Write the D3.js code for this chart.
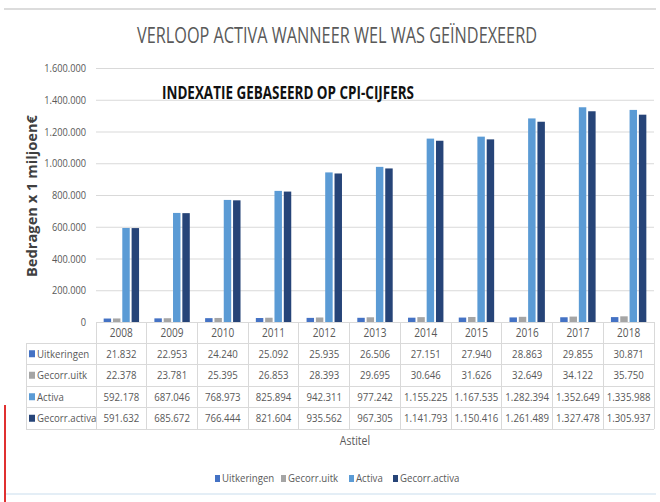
<!DOCTYPE html>
<html><head><meta charset="utf-8">
<script src="https://cdn.jsdelivr.net/npm/d3@7"></script>
<style>
html,body{margin:0;padding:0;background:#fff;}
svg{display:block;}
text{font-family:"Open Sans",sans-serif;}
</style></head>
<body>
<script>
const years = ["2008","2009","2010","2011","2012","2013","2014","2015","2016","2017","2018"];
const seriesNames = ["Uitkeringen","Gecorr.uitk","Activa","Gecorr.activa"];
const seriesColors = ["#4472C4","#A5A5A5","#5B9BD5","#264478"];
const uitkeringen = [21832,22953,24240,25092,25935,26506,27151,27940,28863,29855,30871];
const gecorrUitk = [22378,23781,25395,26853,28393,29695,30646,31626,32649,34122,35750];
const activa = [592178,687046,768973,825894,942311,977242,1155225,1167535,1282394,1352649,1335988];
const gecorrActiva = [591632,685672,766444,821604,935562,967305,1141793,1150416,1261489,1327478,1305937];
const yTicks = [0,200000,400000,600000,800000,1000000,1200000,1400000,1600000];
const seriesValues = [uitkeringen, gecorrUitk, activa, gecorrActiva];

(function(){
const W = 660, H = 502;
const svg = d3.select("body").append("svg").attr("width", W).attr("height", H);
const fmt = v => d3.format(",")(v).replace(/,/g, ".");
const SX = 0.84;
function ctext(g, x, y, str, size, anchor, fill) {
  return g.append("text")
    .attr("transform", `translate(${x},${y}) scale(${SX},1)`)
    .attr("text-anchor", anchor || "start")
    .attr("fill", fill || "#595959")
    .style("font-size", size + "px")
    .text(str);
}

// frame decorations
svg.append("line").attr("x1",4).attr("x2",656).attr("y1",9).attr("y2",9).attr("stroke","#d0d0d0").attr("stroke-width",1.5);
svg.append("line").attr("x1",5).attr("x2",5).attr("y1",405).attr("y2",502).attr("stroke","#e03030").attr("stroke-width",2);
svg.append("line").attr("x1",6).attr("x2",656).attr("y1",494).attr("y2",494).attr("stroke","#e4eef6").attr("stroke-width",2);

const pLeft = 96, pRight = 654, pTop = 68, pBottom = 322;
const x = d3.scaleBand().domain(years).range([pLeft, pRight]).padding(0);
const y = d3.scaleLinear().domain([0, 1600000]).range([pBottom, pTop]);
const inner = d3.scaleBand().domain(seriesNames).range([-17.7, 17.7]).paddingInner(0.2);

// gridlines + y labels
const yAxis = d3.axisLeft(y).tickValues(yTicks).tickSize(-(pRight-pLeft)).tickFormat(fmt).tickPadding(0);
const ga = svg.append("g").attr("transform",`translate(${pLeft},0)`).call(yAxis);
ga.select(".domain").remove();
ga.selectAll(".tick line").attr("stroke","#d9d9d9").attr("stroke-width",1);
ga.selectAll(".tick text").attr("x", null).attr("fill","#595959").style("font-size","11px")
  .attr("transform", `translate(-10,0) scale(${SX},1)`);

// bars
seriesNames.forEach((s, si) => {
  svg.append("g").selectAll("rect").data(years).join("rect")
    .attr("x", (d,i) => x(d) + x.bandwidth()/2 + inner(s))
    .attr("width", inner.bandwidth())
    .attr("y", (d,i) => y(seriesValues[si][i]))
    .attr("height", (d,i) => y(0) - y(seriesValues[si][i]))
    .attr("fill", seriesColors[si]);
});

// table
const rowY = [322, 343, 364.5, 386, 407.5, 429];
const tableLeft = 26;
const grid = svg.append("g").attr("stroke","#d9d9d9").attr("stroke-width",1).attr("shape-rendering","crispEdges");
grid.append("line").attr("x1",pLeft).attr("x2",pRight).attr("y1",rowY[0]).attr("y2",rowY[0]);
for (let r = 1; r < rowY.length; r++) {
  grid.append("line").attr("x1",tableLeft).attr("x2",pRight).attr("y1",rowY[r]).attr("y2",rowY[r]);
}
grid.append("line").attr("x1",tableLeft).attr("x2",tableLeft).attr("y1",rowY[1]).attr("y2",rowY[5]);
const bounds = years.map(d => x(d)).concat([pRight]);
bounds.forEach(b => grid.append("line").attr("x1",b).attr("x2",b).attr("y1",rowY[0]).attr("y2",rowY[5]));

const tg = svg.append("g");
years.forEach(d => ctext(tg, x(d) + x.bandwidth()/2, (rowY[0]+rowY[1])/2 + 4, d, 12, "middle"));

seriesNames.forEach((s, si) => {
  const cy = (rowY[si+1] + rowY[si+2]) / 2;
  tg.append("rect").attr("x", 29).attr("y", cy-3.5).attr("width",6).attr("height",7).attr("fill",seriesColors[si]);
  ctext(tg, 37, cy+4, s, 11.5, "start");
  years.forEach((d,i) => ctext(tg, x(d) + x.bandwidth()/2, cy+4, fmt(seriesValues[si][i]), 11.5, "middle"));
});

// axis title
ctext(svg, 355, 445, "Astitel", 12.5, "middle");

// titles
svg.append("text").attr("x",137).attr("y",43).attr("fill","#595959")
  .style("font-size","21px").style("font-weight","500").attr("textLength",400).attr("lengthAdjust","spacingAndGlyphs")
  .text("VERLOOP ACTIVA WANNEER WEL WAS GEÏNDEXEERD");
svg.append("text").attr("x",162).attr("y",99).attr("fill","#111")
  .style("font-size","18px").style("font-weight","bold").attr("textLength",252).attr("lengthAdjust","spacingAndGlyphs")
  .text("INDEXATIE GEBASEERD OP CPI-CIJFERS");
svg.append("text").attr("transform","translate(37,196) rotate(-90)").attr("text-anchor","middle")
  .attr("fill","#404040").style("font-size","13.5px").style("font-weight","bold")
  .attr("font-family","'DejaVu Sans',sans-serif")
  .attr("textLength",162).attr("lengthAdjust","spacingAndGlyphs")
  .text("Bedragen x 1 miljoen€");

// legend
const legX = [215, 281, 349, 393];
seriesNames.forEach((s, si) => {
  svg.append("rect").attr("x", legX[si]).attr("y", 475).attr("width",5).attr("height",7).attr("fill",seriesColors[si]);
  ctext(svg, legX[si]+7, 482, s, 11.5, "start");
});
})();
</script>
</body></html>
